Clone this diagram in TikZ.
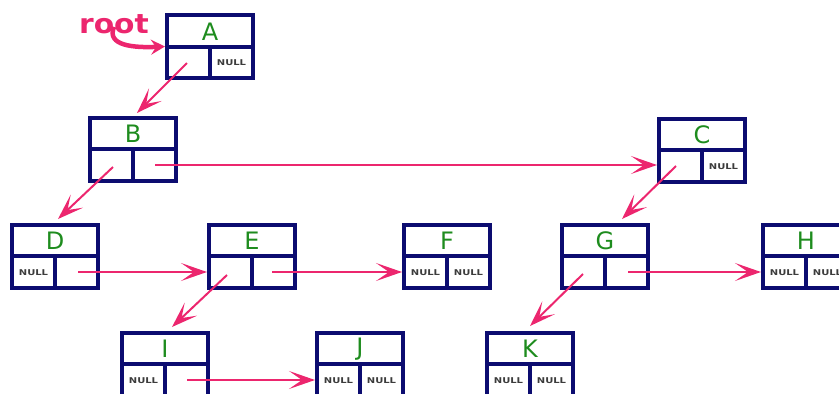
\documentclass[tikz,border=0pt]{standalone}
\usepackage{fontspec}
\setmainfont{DejaVu Sans}
\usetikzlibrary{arrows.meta,calc}
\definecolor{navy}{RGB}{12,12,112}
\definecolor{lgreen}{RGB}{30,140,30}
\definecolor{pinkarr}{RGB}{236,38,110}
\definecolor{nullgray}{RGB}{60,60,60}
\newcommand\mkbox[5]{%
  \node[llbox] (#1) at (#2) {};
  \draw[divider] (#1.west) -- (#1.east);
  \draw[divider] (#1.center) -- (#1.south);
  \node[letter] (#1-l) at ($(#1.center)+(0,-15)$) {#3};
  \ifnum#4=1 \node[nulltxt] (#1-nl) at ($(#1.center)+(-21.5,16.5)$) {NULL};\fi
  \ifnum#5=1 \node[nulltxt] (#1-nr) at ($(#1.center)+(21.5,16.5)$) {NULL};\fi
}
\begin{document}
\begin{tikzpicture}[x=1pt,y=-1pt,
  llbox/.style={draw=navy,line width=4pt,minimum width=86pt,minimum height=63pt,inner sep=0pt},
  divider/.style={draw=navy,line width=4pt},
  letter/.style={text=lgreen,font=\fontsize{24}{25}\selectfont,inner sep=0pt},
  nulltxt/.style={text=nullgray,font=\fontsize{8}{9}\selectfont\bfseries,xscale=1.25,inner sep=0pt},
  ptr/.style={draw=pinkarr,line width=2pt,-{Stealth[length=26pt,width=18pt,inset=13pt]}},
  rootlbl/.style={text=pinkarr,font=\fontsize{27}{28}\selectfont\bfseries,xscale=1.1,inner sep=0pt}
]
\useasboundingbox (0,0) rectangle (839,394);
\mkbox{A}{210,46.5}{A}{0}{1}
\mkbox{B}{133,149}{B}{0}{0}
\mkbox{C}{702,150}{C}{0}{1}
\mkbox{D}{55,256}{D}{1}{0}
\mkbox{E}{252,256}{E}{0}{0}
\mkbox{F}{447,256}{F}{1}{1}
\mkbox{G}{605,256}{G}{0}{0}
\mkbox{H}{806,256}{H}{1}{1}
\mkbox{I}{165,364}{I}{1}{0}
\mkbox{J}{360,364}{J}{1}{1}
\mkbox{K}{530,364}{K}{1}{1}
% root
\node[rootlbl] (root) at (114,24) {root};
\draw[draw=pinkarr,line width=4.5pt,-{Stealth[length=14pt,width=15pt,inset=5pt]}]
  ($(root.south)+(0,-7)$) .. controls ($(root.south)+(-8,12)$) and ($(root.south)+(20,14)$) .. (A.west);
% diagonal pointers
\draw[ptr] ($(A.center)+(-23,16.5)$) -- ($(B.center)+(4,-36)$);
\draw[ptr] ($(B.center)+(-20,18)$) -- ($(D.center)+(3,-37)$);
\draw[ptr] ($(C.center)+(-26,16)$) -- ($(G.center)+(17,-37)$);
\draw[ptr] ($(E.center)+(-25,19)$) -- ($(I.center)+(7,-37)$);
\draw[ptr] ($(G.center)+(-22,18)$) -- ($(K.center)+(0,-38)$);
% horizontal pointers
\draw[ptr] ($(B.center)+(22,16)$) -- ($(C.west)+(0,15)$);
\draw[ptr] ($(D.center)+(23,16)$) -- ($(E.west)+(0,16)$);
\draw[ptr] ($(E.center)+(20,16)$) -- ($(F.west)+(0,16)$);
\draw[ptr] ($(G.center)+(23,16)$) -- ($(H.west)+(0,16)$);
\draw[ptr] ($(I.center)+(22,16)$) -- ($(J.west)+(0,16)$);
\end{tikzpicture}
\end{document}
